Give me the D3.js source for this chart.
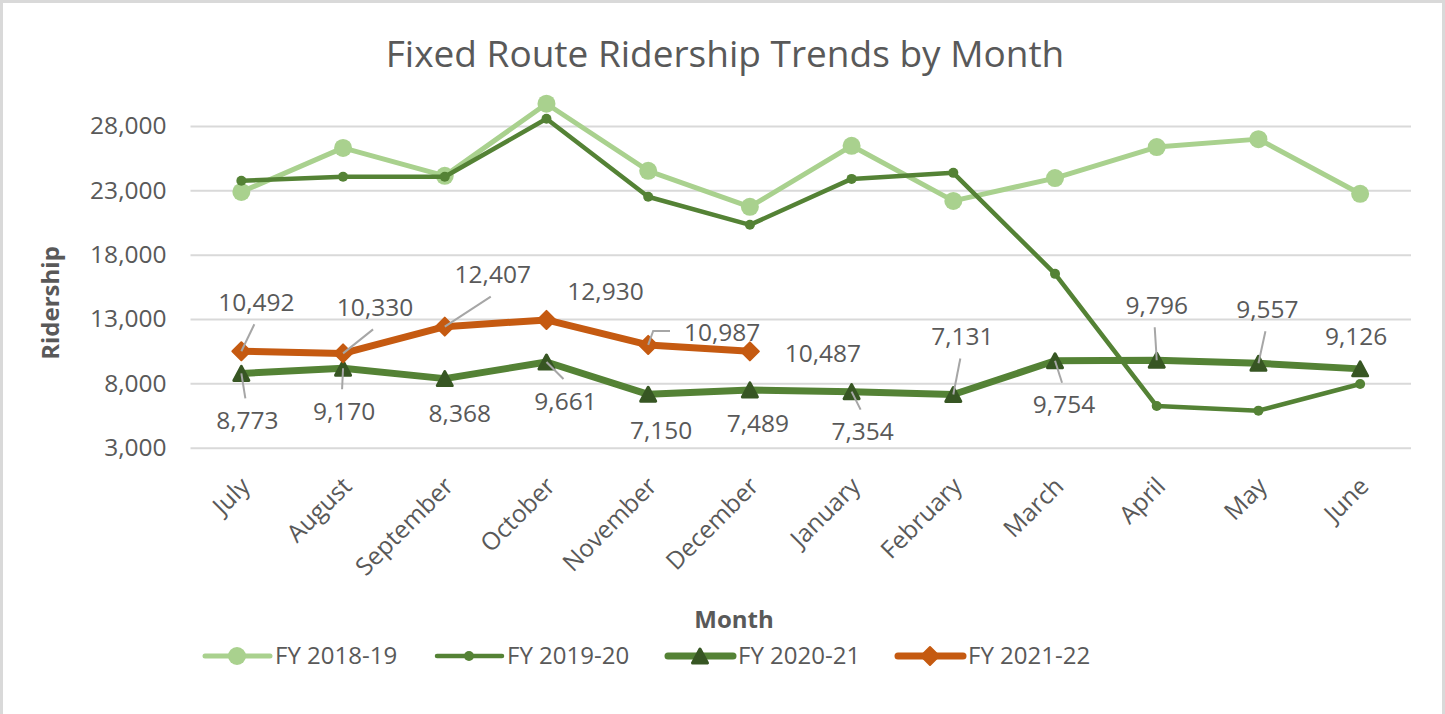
<!DOCTYPE html>
<html>
<head>
<meta charset="utf-8">
<script src="https://cdn.jsdelivr.net/npm/d3@7"></script>
<style>
  body { margin: 0; background: #fff; }
  svg text { font-family: 'Open Sans', sans-serif; fill: #595959; }
</style>
</head>
<body>
<svg id="chart" width="1445" height="714"></svg>
<script>
// chart data
const months = ['July', 'August', 'September', 'October', 'November', 'December',
  'January', 'February', 'March', 'April', 'May', 'June']
const fy1819 = [22880, 26300, 24130, 29730, 24520, 21720, 26460, 22180, 23950, 26360, 26980, 22730]
const fy1920 = [23740, 24050, 24050, 28560, 22500, 20320, 23890, 24360, 16510, 6240, 5880, 7950]
const fy2021 = [8773, 9170, 8368, 9661, 7150, 7489, 7354, 7131, 9754, 9796, 9557, 9126]
const fy2122 = [10492, 10330, 12407, 12930, 10987, 10487]
const yTicks = [3000, 8000, 13000, 18000, 23000, 28000]
const seriesNames = ['FY 2018-19', 'FY 2019-20', 'FY 2020-21', 'FY 2021-22']

// where the data labels sit relative to their point: [dx, dy, leader]
// leader: 0 none, 1 straight, 2 elbow to the side
const pos2021 = [[6, 47, 1], [1, 43, 1], [15, 35, 0], [19, 39, 1], [13, 36, 0], [8, 33, 0],
  [11, 40, 1], [9, -58, 1], [9, 44, 1], [0, -55, 1], [9, -54, 1], [-4, -32, 0]]
const pos2122 = [[15, -49, 1], [32, -46, 1], [48, -52, 1], [59, -28, 0], [74, -12, 2], [73, 2, 0]]

const svg = d3.select('#chart')
const fmt = d3.format(',')

// light frame around the chart
svg.append('rect')
  .attr('x', 1.5).attr('y', 1.5)
  .attr('width', 1442).attr('height', 800)
  .attr('fill', '#fff')
  .attr('stroke', '#d9d9d9')
  .attr('stroke-width', 3)

const x = d3.scaleBand().domain(months).range([190.5, 1411])
const cx = m => x(m) + x.bandwidth() / 2
const y = d3.scaleLinear().domain([3000, 28000]).range([447.7, 126])

svg.append('text')
  .attr('x', 725).attr('y', 66.7)
  .attr('text-anchor', 'middle')
  .style('font-size', '37px')
  .text('Fixed Route Ridership Trends by Month')

// gridlines + y labels
svg.append('g')
  .attr('transform', 'translate(190.5,0)')
  .call(d3.axisLeft(y).tickValues(yTicks).tickFormat(fmt)
    .tickSize(-(1411 - 190.5)).tickPadding(24))
  .call(g => g.select('.domain').remove())
  .call(g => g.selectAll('line').attr('stroke', '#d9d9d9').attr('stroke-width', 2))
  .call(g => g.selectAll('text').style('font-size', '24.5px').style('font-family', null).attr('fill', null))

// month labels
svg.append('g')
  .attr('transform', 'translate(0,447.7)')
  .call(d3.axisBottom(x).tickSize(0))
  .call(g => g.select('.domain').remove())
  .call(g => g.selectAll('text')
    .attr('y', 0).attr('dy', '0.35em')
    .attr('text-anchor', 'end')
    .attr('transform', 'translate(4,34) rotate(-45)')
    .style('font-size', '24.5px').style('font-family', null).attr('fill', null))

svg.append('text')
  .attr('transform', 'translate(51,303) rotate(-90)')
  .attr('text-anchor', 'middle').attr('dy', '0.35em')
  .style('font-size', '24px').style('font-weight', 'bold')
  .text('Ridership')

svg.append('text')
  .attr('x', 734).attr('y', 620).attr('dy', '0.35em')
  .attr('text-anchor', 'middle')
  .style('font-size', '24px').style('font-weight', 'bold')
  .text('Month')

const triPath = 'M0,-7L7.5,7L-7.5,7Z'
const diaPath = 'M0,-9L9,0L0,9L-9,0Z'

const styles = [
  { color: '#a9d18e', width: 5, marker: g => g.append('circle').attr('r', 9).attr('fill', '#a9d18e') },
  { color: '#548235', width: 4.5, marker: g => g.append('circle').attr('r', 5).attr('fill', '#548235') },
  { color: '#548235', width: 7, marker: g => g.append('path').attr('d', triPath)
      .attr('fill', '#375623').attr('stroke', '#375623').attr('stroke-width', 3).attr('stroke-linejoin', 'round') },
  { color: '#c55a11', width: 7, marker: g => g.append('path').attr('d', diaPath)
      .attr('fill', '#c55a11').attr('stroke', '#c55a11').attr('stroke-width', 2).attr('stroke-linejoin', 'round') }
]

const line = d3.line().x((d, i) => cx(months[i])).y(d => y(d))

function drawSeries(values, s) {
  svg.append('path')
    .datum(values)
    .attr('d', line)
    .attr('fill', 'none')
    .attr('stroke', s.color)
    .attr('stroke-width', s.width)
    .attr('stroke-linejoin', 'round')
    .attr('stroke-linecap', 'round')
  values.forEach((v, i) => {
    const g = svg.append('g').attr('transform', `translate(${cx(months[i])},${y(v)})`)
    s.marker(g)
  })
}

drawSeries(fy1819, styles[0])
drawSeries(fy1920, styles[1])
drawSeries(fy2021, styles[2])
drawSeries(fy2122, styles[3])

// data labels with leader lines
function drawLabels(values, positions) {
  values.forEach((v, i) => {
    const px = cx(months[i]), py = y(v)
    const [dx, dy, leader] = positions[i]
    const lx = px + dx, ly = py + dy
    const t = svg.append('text')
      .attr('x', lx).attr('y', ly).attr('dy', '0.35em')
      .attr('text-anchor', 'middle')
      .style('font-size', '24.5px')
      .text(fmt(v))
    const lead = d3.path()
    if (leader === 1) {
      lead.moveTo(px, py)
      lead.lineTo(lx - 2, dy < 0 ? ly + 22 : ly - 22)
    } else if (leader === 2) {
      const w = t.node().getComputedTextLength()
      lead.moveTo(px, py)
      lead.lineTo(px + 5, ly - 2)
      lead.lineTo(lx - w / 2 - 14, ly - 2)
    }
    if (leader) {
      svg.append('path').attr('d', lead.toString())
        .attr('fill', 'none').attr('stroke', '#a6a6a6').attr('stroke-width', 2)
    }
  })
}

drawLabels(fy2021, pos2021)
drawLabels(fy2122, pos2122)

// legend
const legendX = [205, 437, 668, 898]
seriesNames.forEach((name, i) => {
  const g = svg.append('g').attr('transform', `translate(${legendX[i]},656)`)
  g.append('line')
    .attr('x1', 0).attr('x2', 65)
    .attr('stroke', styles[i].color)
    .attr('stroke-width', styles[i].width)
    .attr('stroke-linecap', 'round')
  styles[i].marker(g.append('g').attr('transform', 'translate(32,0)'))
  g.append('text')
    .attr('x', 70).attr('dy', '0.35em')
    .style('font-size', '24px')
    .text(name)
})
</script>
</body>
</html>
